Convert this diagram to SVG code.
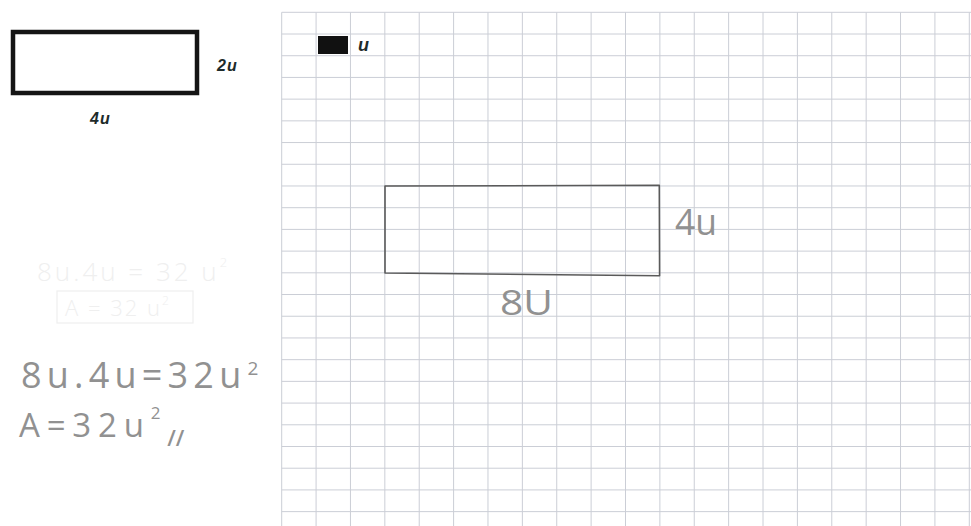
<svg xmlns="http://www.w3.org/2000/svg" width="971" height="526" viewBox="0 0 971 526">
<style>
.grid{stroke:#cbced6;stroke-width:1;fill:none}
.print{font-family:"Liberation Sans",Arial,sans-serif;font-weight:bold;font-style:italic;fill:#1e2b2b}
.hand{font-family:"Open Sans","DejaVu Sans",sans-serif;font-weight:400;fill:#919191}
.faint{font-family:"Open Sans","DejaVu Sans",sans-serif;font-weight:300;fill:#efefef}
</style>
<rect width="971" height="526" fill="#ffffff"/>
<g id="grid">
<path class="grid" d="M281.7 12.3V526M316.08 12.3V526M350.46 12.3V526M384.84 12.3V526M419.22 12.3V526M453.6 12.3V526M487.98 12.3V526M522.36 12.3V526M556.74 12.3V526M591.12 12.3V526M625.5 12.3V526M659.88 12.3V526M694.26 12.3V526M728.64 12.3V526M763.02 12.3V526M797.4 12.3V526M831.78 12.3V526M866.16 12.3V526M900.54 12.3V526M934.92 12.3V526M969.3 12.3V526"/>
<path class="grid" d="M281.7 12.3H971M281.7 34.01H971M281.7 55.72H971M281.7 77.43H971M281.7 99.14H971M281.7 120.85H971M281.7 142.56H971M281.7 164.27H971M281.7 185.98H971M281.7 207.69H971M281.7 229.4H971M281.7 251.11H971M281.7 272.82H971M281.7 294.53H971M281.7 316.24H971M281.7 337.95H971M281.7 359.66H971M281.7 381.37H971M281.7 403.08H971M281.7 424.79H971M281.7 446.5H971M281.7 468.21H971M281.7 489.92H971M281.7 511.63H971"/>
</g>
<g id="model-rect">
<rect x="13" y="32" width="184" height="61" fill="none" stroke="#151515" stroke-width="4.5"/>
<text class="print" x="217" y="71" font-size="16" letter-spacing="1">2u</text>
<text class="print" x="90" y="124" font-size="16" letter-spacing="1">4u</text>
</g>
<g id="legend">
<rect x="318" y="36" width="30" height="18" fill="#111111"/>
<text class="print" x="358" y="51" font-size="18">u</text>
</g>
<g id="grid-rect">
<polygon points="385,186 659.3,185.3 659.6,275.8 385,273" fill="none" stroke="#5a5a5a" stroke-width="1.6" stroke-linejoin="round"/>
<text class="hand" x="675" y="235" font-size="37" textLength="42" lengthAdjust="spacingAndGlyphs">4u</text>
<text class="hand" x="500" y="315" font-size="35" textLength="53" lengthAdjust="spacingAndGlyphs">8U</text>
</g>
<g id="faded-work">
<text class="faint" x="37" y="281" font-size="26" letter-spacing="3">8u.4u = 32 u<tspan font-size="13" dy="-14">2</tspan></text>
<rect x="57" y="291" width="136" height="32" fill="none" stroke="#efefef" stroke-width="1.2"/>
<text class="faint" x="65" y="316" font-size="22" letter-spacing="2">A = 32 u<tspan font-size="12" dy="-11">2</tspan></text>
</g>
<g id="calculation">
<text class="hand" x="21" y="388" font-size="36" letter-spacing="5.2">8u.4u=32u<tspan font-size="19" dx="1" dy="-13">2</tspan></text>
<text class="hand" x="19" y="437" font-size="33" letter-spacing="6.8">A=32u<tspan font-size="17" dy="-18">2</tspan><tspan font-size="22" font-weight="600" dy="27" letter-spacing="0">//</tspan></text>
</g>
</svg>
